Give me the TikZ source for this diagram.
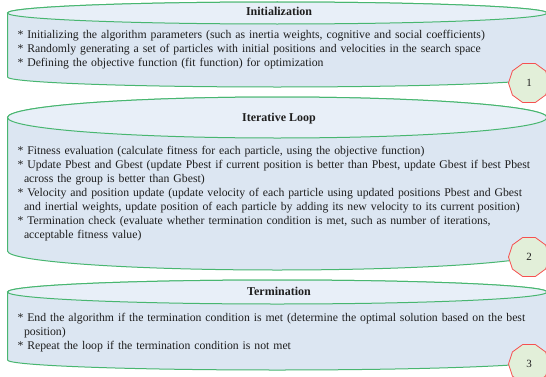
\documentclass[tikz,border=0pt]{standalone}
\usepackage{fontspec}
\setmainfont{Liberation Serif}
\usetikzlibrary{shapes.geometric}
\definecolor{canfill}{RGB}{220,230,242}
\definecolor{lidfill}{RGB}{232,239,248}
\definecolor{canline}{RGB}{72,182,112}
\definecolor{tagfill}{RGB}{226,239,217}
\definecolor{tagline}{RGB}{246,80,80}
\definecolor{txt}{RGB}{30,30,30}

\begin{document}
\begin{tikzpicture}[x=1pt,y=1pt,
  can/.style={fill=canfill,draw=canline,line width=1pt},
  lid/.style={fill=lidfill,draw=canline,line width=1pt},
  head/.style={font=\fontsize{12}{14}\selectfont\bfseries,text=txt,inner sep=0,anchor=base},
  body/.style={font=\fontsize{11.75}{14}\selectfont,text=txt,inner sep=0,anchor=base west,text width=600pt,align=left},
  tag/.style={regular polygon,regular polygon sides=10,minimum size=41pt,inner sep=0,fill=tagfill,draw=tagline,line width=0.8pt,font=\fontsize{11}{13}\selectfont,text=txt}]
  \clip (0,0) rectangle (546,376);

  % stage 1
  \draw[can] (7.5,363) -- (7.5,299) arc[start angle=180,end angle=360,x radius=269.75,y radius=10] -- (547,363) arc[start angle=0,end angle=180,x radius=269.75,y radius=11] -- cycle;
  \draw[lid] (277.25,363) ellipse[x radius=269.75,y radius=11];
  % stage 2
  \draw[can] (7.5,258.5) -- (7.5,125) arc[start angle=180,end angle=360,x radius=269.75,y radius=19] -- (547,258.5) arc[start angle=0,end angle=180,x radius=269.75,y radius=20.5] -- cycle;
  \draw[lid] (277.25,258.5) ellipse[x radius=269.75,y radius=20.5];
  % stage 3
  \draw[can] (7.5,84) -- (7.5,16) arc[start angle=180,end angle=360,x radius=269.75,y radius=10] -- (547,84) arc[start angle=0,end angle=180,x radius=269.75,y radius=12] -- cycle;
  \draw[lid] (277.25,84) ellipse[x radius=269.75,y radius=12];

  \node[head] (h1) at (279,360.7) {Initialization};
  \node[head] (h2) at (279,254.7) {Iterative Loop};
  \node[head] (h3) at (279,80.7) {Termination};

  \node[body] (b1) at (17.3,337.5) {{*} Initializing the algorithm parameters (such as inertia weights, cognitive and social coefficients)\\
    {*} Randomly generating a set of particles with initial positions and velocities in the search space\\
    {*} Defining the objective function (fit function) for optimization};
  \node[body] (b2) at (17.3,221.5) {{*} Fitness evaluation (calculate fitness for each particle, using the objective function)\\
    {*} Update Pbest and Gbest (update Pbest if current position is better than Pbest, update Gbest if best Pbest\\
    \hspace*{6.5pt}across the group is better than Gbest)\\
    {*} Velocity and position update (update velocity of each particle using updated positions Pbest and Gbest\\
    \hspace*{6.5pt}and inertial weights, update position of each particle by adding its new velocity to its current position)\\
    {*} Termination check (evaluate whether termination condition is met, such as number of iterations,\\
    \hspace*{6.5pt}acceptable fitness value)};
  \node[body] (b3) at (17.3,54.5) {{*} End the algorithm if the termination condition is met (determine the optimal solution based on the best\\
    \hspace*{6.5pt}position)\\
    {*} Repeat the loop if the termination condition is not met};

  \node[tag] (k1) at (529,293) {1};
  \node[tag] (k2) at (529,119) {2};
  \node[tag] (k3) at (529,12) {3};
\end{tikzpicture}
\end{document}
